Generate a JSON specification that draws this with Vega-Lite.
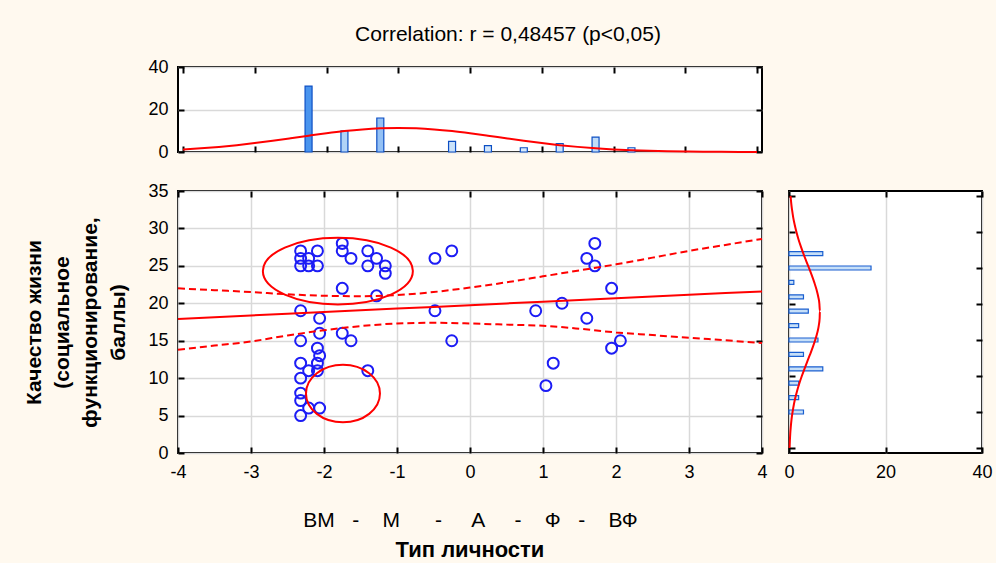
{
  "$schema": "https://vega.github.io/schema/vega-lite/v6.json",
  "background": "#FFF9EF",
  "padding": {"left": 22, "top": 24, "right": 3, "bottom": 1},
  "title": {
    "text": "Correlation: r = 0,48457 (p<0,05)",
    "font": "Liberation Sans",
    "fontSize": 21,
    "fontWeight": "normal",
    "color": "#000",
    "anchor": "middle",
    "offset": 12
  },
  "config": {
    "font": "Liberation Sans",
    "view": {"stroke": "#000", "strokeWidth": 2, "fill": "#fff"},
    "axis": {
      "domain": false,
      "labelFont": "Liberation Sans",
      "labelFontSize": 18,
      "labelColor": "#000",
      "labelFlush": false,
      "titleFont": "Liberation Sans",
      "titleColor": "#000",
      "gridColor": "#d9d9d9",
      "gridWidth": 1.5,
      "tickColor": "#000",
      "tickWidth": 2,
      "tickSize": -6,
      "labelPadding": 16
    }
  },
  "datasets": {
    "points": [
      {"x": -2.32, "y": 27}, {"x": -2.32, "y": 26}, {"x": -2.32, "y": 25},
      {"x": -2.21, "y": 26}, {"x": -2.21, "y": 25}, {"x": -2.09, "y": 27},
      {"x": -2.09, "y": 25}, {"x": -1.75, "y": 28}, {"x": -1.75, "y": 27},
      {"x": -1.63, "y": 26}, {"x": -1.40, "y": 27}, {"x": -1.40, "y": 25},
      {"x": -1.28, "y": 26}, {"x": -1.16, "y": 25}, {"x": -1.16, "y": 24},
      {"x": -1.75, "y": 22}, {"x": -1.28, "y": 21}, {"x": -2.32, "y": 19},
      {"x": -2.06, "y": 18}, {"x": -2.06, "y": 16}, {"x": -1.75, "y": 16},
      {"x": -1.63, "y": 15}, {"x": -2.32, "y": 15}, {"x": -2.09, "y": 14},
      {"x": -2.06, "y": 13}, {"x": -2.09, "y": 12}, {"x": -2.32, "y": 12},
      {"x": -2.21, "y": 11}, {"x": -2.09, "y": 11}, {"x": -1.40, "y": 11},
      {"x": -2.32, "y": 10}, {"x": -2.32, "y": 8}, {"x": -2.32, "y": 7},
      {"x": -2.21, "y": 6}, {"x": -2.06, "y": 6}, {"x": -2.32, "y": 5},
      {"x": -0.48, "y": 26}, {"x": -0.25, "y": 27}, {"x": -0.48, "y": 19},
      {"x": -0.25, "y": 15}, {"x": 1.71, "y": 28}, {"x": 1.60, "y": 26},
      {"x": 1.71, "y": 25}, {"x": 1.94, "y": 22}, {"x": 1.26, "y": 20},
      {"x": 0.90, "y": 19}, {"x": 1.60, "y": 18}, {"x": 1.94, "y": 14},
      {"x": 2.06, "y": 15}, {"x": 1.14, "y": 12}, {"x": 1.04, "y": 9}
    ],
    "fit": [
      {"x": -4, "fit": 17.91, "lo": 13.8, "hi": 22.0},
      {"x": -3.5, "fit": 18.14, "lo": 14.35, "hi": 21.75},
      {"x": -3, "fit": 18.37, "lo": 14.9, "hi": 21.5},
      {"x": -2.5, "fit": 18.6, "lo": 15.7, "hi": 21.2},
      {"x": -2, "fit": 18.83, "lo": 16.4, "hi": 21.0},
      {"x": -1.5, "fit": 19.06, "lo": 16.95, "hi": 20.95},
      {"x": -1, "fit": 19.29, "lo": 17.3, "hi": 21.1},
      {"x": -0.5, "fit": 19.52, "lo": 17.4, "hi": 21.5},
      {"x": 0, "fit": 19.75, "lo": 17.3, "hi": 22.1},
      {"x": 0.5, "fit": 19.98, "lo": 17.15, "hi": 22.8},
      {"x": 1, "fit": 20.21, "lo": 17.0, "hi": 23.6},
      {"x": 1.5, "fit": 20.44, "lo": 16.6, "hi": 24.4},
      {"x": 2, "fit": 20.67, "lo": 16.1, "hi": 25.2},
      {"x": 2.5, "fit": 20.9, "lo": 15.75, "hi": 26.1},
      {"x": 3, "fit": 21.13, "lo": 15.4, "hi": 27.0},
      {"x": 3.5, "fit": 21.36, "lo": 15.05, "hi": 27.8},
      {"x": 4, "fit": 21.59, "lo": 14.7, "hi": 28.6}
    ],
    "ellipses": [
      {"name": "upper", "x": -1.81, "y": 24.3},
      {"name": "lower", "x": -1.74, "y": 7.94}
    ],
    "histX": [
      {"x": -2.25, "n": 31}, {"x": -1.75, "n": 10}, {"x": -1.25, "n": 16},
      {"x": -0.25, "n": 5}, {"x": 0.25, "n": 3}, {"x": 0.75, "n": 2},
      {"x": 1.25, "n": 4}, {"x": 1.75, "n": 7}, {"x": 2.25, "n": 2}
    ],
    "curveX": [
      {"x": -4, "n": 1.22}, {"x": -3.75, "n": 1.74}, {"x": -3.5, "n": 2.41},
      {"x": -3.25, "n": 3.23}, {"x": -3, "n": 4.2}, {"x": -2.75, "n": 5.3},
      {"x": -2.5, "n": 6.47}, {"x": -2.25, "n": 7.67}, {"x": -2, "n": 8.82},
      {"x": -1.75, "n": 9.83}, {"x": -1.5, "n": 10.62}, {"x": -1.25, "n": 11.13},
      {"x": -1, "n": 11.3}, {"x": -0.75, "n": 11.13}, {"x": -0.5, "n": 10.62},
      {"x": -0.25, "n": 9.83}, {"x": 0, "n": 8.82}, {"x": 0.25, "n": 7.67},
      {"x": 0.5, "n": 6.47}, {"x": 0.75, "n": 5.3}, {"x": 1, "n": 4.2},
      {"x": 1.25, "n": 3.23}, {"x": 1.5, "n": 2.41}, {"x": 1.75, "n": 1.74},
      {"x": 2, "n": 1.22}, {"x": 2.25, "n": 0.83}, {"x": 2.5, "n": 0.54},
      {"x": 2.75, "n": 0.35}, {"x": 3, "n": 0.22}, {"x": 3.25, "n": 0.13},
      {"x": 3.5, "n": 0.08}, {"x": 3.75, "n": 0.04}, {"x": 4, "n": 0.02}
    ],
    "histY": [
      {"y": 27, "n": 7}, {"y": 25, "n": 17}, {"y": 23, "n": 1}, {"y": 21, "n": 3},
      {"y": 19, "n": 4}, {"y": 17, "n": 2}, {"y": 15, "n": 6}, {"y": 13, "n": 3},
      {"y": 11, "n": 7}, {"y": 9, "n": 2}, {"y": 7, "n": 2}, {"y": 5, "n": 3}
    ],
    "curveY": [
      {"y": 0, "n": 0.12}, {"y": 1, "n": 0.18}, {"y": 2, "n": 0.26}, {"y": 3, "n": 0.38},
      {"y": 4, "n": 0.53}, {"y": 5, "n": 0.74}, {"y": 6, "n": 1.0}, {"y": 7, "n": 1.32},
      {"y": 8, "n": 1.7}, {"y": 9, "n": 2.15}, {"y": 10, "n": 2.66}, {"y": 11, "n": 3.21},
      {"y": 12, "n": 3.78}, {"y": 13, "n": 4.37}, {"y": 14, "n": 4.93}, {"y": 15, "n": 5.43},
      {"y": 16, "n": 5.86}, {"y": 17, "n": 6.17}, {"y": 18, "n": 6.35}, {"y": 19, "n": 6.4},
      {"y": 20, "n": 6.3}, {"y": 21, "n": 6.06}, {"y": 22, "n": 5.7}, {"y": 23, "n": 5.24},
      {"y": 24, "n": 4.71}, {"y": 25, "n": 4.14}, {"y": 26, "n": 3.55}, {"y": 27, "n": 2.98},
      {"y": 28, "n": 2.45}, {"y": 29, "n": 1.96}, {"y": 30, "n": 1.54}, {"y": 31, "n": 1.18},
      {"y": 32, "n": 0.88}, {"y": 33, "n": 0.65}, {"y": 34, "n": 0.46}, {"y": 35, "n": 0.33}
    ]
  },
  "bounds": "flush",
  "spacing": 39,
  "vconcat": [
    {
      "width": 584,
      "height": 85,
      "layer": [
        {
          "data": {"name": "histX"},
          "mark": {"type": "bar", "width": 7, "stroke": "#0d4fc4", "strokeWidth": 1.2},
          "encoding": {
            "x": {
              "field": "x", "type": "quantitative",
              "scale": {"domain": [-4, 4], "nice": false},
              "axis": {"orient": "bottom", "values": [-4, -3, -2, -1, 0, 1, 2, 3, 4], "labels": false, "grid": false, "title": null}
            },
            "y": {
              "field": "n", "type": "quantitative",
              "scale": {"domain": [0, 40], "nice": false},
              "axis": {"orient": "left", "values": [0, 20, 40], "grid": true, "title": null}
            },
            "fill": {
              "field": "n", "type": "quantitative",
              "scale": {"domain": [0, 35], "range": ["#e3f0fc", "#2f88ec"]},
              "legend": null
            }
          }
        },
        {
          "data": {"name": "curveX"},
          "mark": {"type": "line", "color": "#ff0000", "strokeWidth": 2, "interpolate": "monotone"},
          "encoding": {
            "x": {
              "field": "x", "type": "quantitative",
              "scale": {"domain": [-4, 4], "nice": false},
              "axis": {"orient": "top", "values": [-4, -3, -2, -1, 0, 1, 2, 3, 4], "labels": false, "grid": false, "title": null}
            },
            "y": {
              "field": "n", "type": "quantitative",
              "scale": {"domain": [0, 40], "nice": false},
              "axis": {"orient": "right", "values": [0, 20, 40], "labels": false, "grid": false, "title": null}
            }
          }
        }
      ],
      "resolve": {"axis": {"x": "independent", "y": "independent"}}
    },
    {
      "bounds": "flush",
      "spacing": 27,
      "hconcat": [
        {
          "width": 584,
          "height": 262,
          "title": {
            "text": "Тип личности",
            "orient": "bottom",
            "anchor": "middle",
            "frame": "group",
            "font": "Liberation Sans",
            "fontSize": 22,
            "fontWeight": "bold",
            "color": "#000",
            "offset": 10
          },
          "layer": [
            {
              "data": {"name": "points"},
              "mark": {"type": "point", "shape": "circle", "filled": false, "size": 120, "stroke": "#1c1cf5", "strokeWidth": 2, "opacity": 1},
              "encoding": {
                "x": {
                  "field": "x", "type": "quantitative",
                  "scale": {"domain": [-4, 4], "nice": false},
                  "axis": {
                    "orient": "bottom",
                    "values": [-4, -3, -2, -1, 0, 1, 2, 3, 4],
                    "grid": true,
                    "labelExpr": "replace(datum.label, '\u2212', '-')",
                    "title": "ВМ\u00a0\u00a0\u00a0-\u00a0\u00a0\u00a0\u00a0М\u00a0\u00a0\u00a0\u00a0\u00a0\u00a0-\u00a0\u00a0\u00a0\u00a0\u00a0А\u00a0\u00a0\u00a0\u00a0\u00a0-\u00a0\u00a0\u00a0\u00a0Ф\u00a0\u00a0\u00a0-\u00a0\u00a0\u00a0\u00a0ВФ",
                    "titleFontSize": 21,
                    "titleFontWeight": "normal",
                    "titlePadding": 28
                  }
                },
                "y": {
                  "field": "y", "type": "quantitative",
                  "scale": {"domain": [0, 35], "nice": false},
                  "axis": {
                    "orient": "left",
                    "values": [0, 5, 10, 15, 20, 25, 30, 35],
                    "grid": true,
                    "title": ["Качество жизни", "(социальное", "функционирование,", "баллы)"],
                    "titleFontSize": 21,
                    "titleFontWeight": "bold",
                    "titleLineHeight": 28,
                    "titlePadding": 19
                  }
                }
              }
            },
            {
              "data": {"name": "fit"},
              "mark": {"type": "line", "color": "#ff0000", "strokeWidth": 2},
              "encoding": {
                "x": {
                  "field": "x", "type": "quantitative",
                  "scale": {"domain": [-4, 4], "nice": false},
                  "axis": {"orient": "top", "values": [-4, -3, -2, -1, 0, 1, 2, 3, 4], "labels": false, "grid": false, "title": null}
                },
                "y": {
                  "field": "fit", "type": "quantitative",
                  "scale": {"domain": [0, 35], "nice": false},
                  "axis": {"orient": "right", "values": [0, 5, 10, 15, 20, 25, 30, 35], "labels": false, "grid": false, "title": null}
                }
              }
            },
            {
              "data": {"name": "fit"},
              "mark": {"type": "line", "color": "#ff0000", "strokeWidth": 2, "strokeDash": [7, 4], "interpolate": "monotone"},
              "encoding": {
                "x": {"field": "x", "type": "quantitative", "scale": {"domain": [-4, 4], "nice": false}, "axis": null},
                "y": {"field": "hi", "type": "quantitative", "scale": {"domain": [0, 35], "nice": false}, "axis": null}
              }
            },
            {
              "data": {"name": "fit"},
              "mark": {"type": "line", "color": "#ff0000", "strokeWidth": 2, "strokeDash": [7, 4], "interpolate": "monotone"},
              "encoding": {
                "x": {"field": "x", "type": "quantitative", "scale": {"domain": [-4, 4], "nice": false}, "axis": null},
                "y": {"field": "lo", "type": "quantitative", "scale": {"domain": [0, 35], "nice": false}, "axis": null}
              }
            },
            {
              "data": {"name": "ellipses"},
              "transform": [{"filter": "datum.name == 'upper'"}],
              "mark": {
                "type": "point",
                "shape": "M -1 0 C -1 -0.2452 -0.5523 -0.444 0 -0.444 C 0.5523 -0.444 1 -0.2452 1 0 C 1 0.2452 0.5523 0.444 0 0.444 C -0.5523 0.444 -1 0.2452 -1 0 Z",
                "filled": false, "size": 22500, "stroke": "#ff0000", "strokeWidth": 2, "opacity": 1
              },
              "encoding": {
                "x": {"field": "x", "type": "quantitative", "scale": {"domain": [-4, 4], "nice": false}, "axis": null},
                "y": {"field": "y", "type": "quantitative", "scale": {"domain": [0, 35], "nice": false}, "axis": null}
              }
            },
            {
              "data": {"name": "ellipses"},
              "transform": [{"filter": "datum.name == 'lower'"}],
              "mark": {
                "type": "point",
                "shape": "M -1 0 C -1 -0.4286 -0.5523 -0.776 0 -0.776 C 0.5523 -0.776 1 -0.4286 1 0 C 1 0.4286 0.5523 0.776 0 0.776 C -0.5523 0.776 -1 0.4286 -1 0 Z",
                "filled": false, "size": 5476, "stroke": "#ff0000", "strokeWidth": 2, "opacity": 1
              },
              "encoding": {
                "x": {"field": "x", "type": "quantitative", "scale": {"domain": [-4, 4], "nice": false}, "axis": null},
                "y": {"field": "y", "type": "quantitative", "scale": {"domain": [0, 35], "nice": false}, "axis": null}
              }
            }
          ],
          "resolve": {"axis": {"x": "independent", "y": "independent"}}
        },
        {
          "width": 193,
          "height": 262,
          "layer": [
            {
              "data": {"name": "histY"},
              "mark": {"type": "bar", "orient": "horizontal", "height": 4, "fill": "#c6dff8", "stroke": "#1a5fd0", "strokeWidth": 1.2},
              "encoding": {
                "x": {
                  "field": "n", "type": "quantitative",
                  "scale": {"domain": [0, 40], "nice": false},
                  "axis": {"orient": "bottom", "values": [0, 20, 40], "grid": true, "title": null}
                },
                "y": {
                  "field": "y", "type": "quantitative",
                  "scale": {"domain": [0, 35], "nice": false},
                  "axis": {"orient": "left", "values": [0, 5, 10, 15, 20, 25, 30, 35], "labels": false, "grid": false, "title": null}
                }
              }
            },
            {
              "data": {"name": "curveY"},
              "mark": {"type": "line", "color": "#ff0000", "strokeWidth": 2, "interpolate": "monotone"},
              "encoding": {
                "x": {
                  "field": "n", "type": "quantitative",
                  "scale": {"domain": [0, 40], "nice": false},
                  "axis": {"orient": "top", "values": [0, 20, 40], "labels": false, "grid": false, "title": null}
                },
                "y": {
                  "field": "y", "type": "quantitative",
                  "scale": {"domain": [0, 35], "nice": false},
                  "axis": {"orient": "right", "values": [0, 5, 10, 15, 20, 25, 30, 35], "labels": false, "grid": false, "title": null}
                },
                "order": {"field": "y", "type": "quantitative"}
              }
            }
          ],
          "resolve": {"axis": {"x": "independent", "y": "independent"}}
        }
      ]
    }
  ]
}
